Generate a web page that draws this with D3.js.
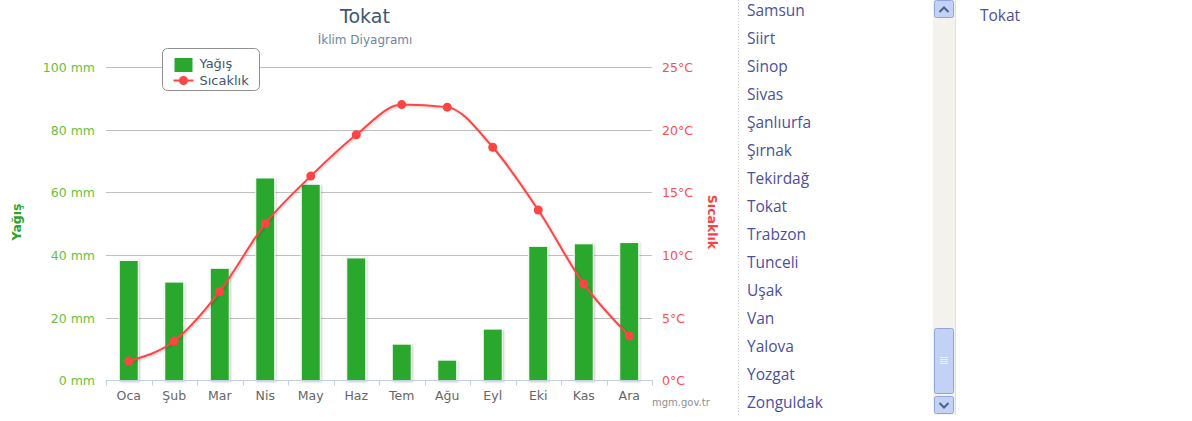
<!DOCTYPE html>
<html>
<head>
<meta charset="utf-8">
<title>Tokat</title>
<script src="https://cdnjs.cloudflare.com/ajax/libs/d3/7.8.5/d3.min.js"></script>
<style>
  body { margin: 0; background: #fff; }
  svg { display: block; }
</style>
</head>
<body>
<script>
var months = ["Oca", "Şub", "Mar", "Nis", "May", "Haz", "Tem", "Ağu", "Eyl", "Eki", "Kas", "Ara"];
var rain = [38.3, 31.4, 35.8, 64.6, 62.6, 39.1, 11.6, 6.5, 16.4, 42.8, 43.6, 44.0];
var temp = [1.55, 3.15, 7.1, 12.5, 16.3, 19.6, 22.0, 21.8, 18.6, 13.6, 7.7, 3.55];
var rainTicks = [0, 20, 40, 60, 80, 100];
var tempTicks = [0, 5, 10, 15, 20, 25];
var cities = ["Samsun", "Siirt", "Sinop", "Sivas", "Şanlıurfa", "Şırnak", "Tekirdağ", "Tokat",
              "Trabzon", "Tunceli", "Uşak", "Van", "Yalova", "Yozgat", "Zonguldak"];

var W = 1192, H = 421;
var font = "'DejaVu Sans', Verdana, sans-serif";
var svg = d3.select("body").append("svg").attr("width", W).attr("height", H);

var defs = svg.append("defs");
var f = defs.append("filter").attr("id", "shadow").attr("x", "-20%").attr("y", "-20%").attr("width", "150%").attr("height", "150%");
f.append("feDropShadow").attr("dx", 1).attr("dy", 1).attr("stdDeviation", 1.2)
  .attr("flood-color", "#000").attr("flood-opacity", 0.22);

var plotL = 106, plotR = 652, plotT = 67, plotB = 380.5;

var x = d3.scaleBand().domain(months).range([plotL, plotR]).paddingInner(0).paddingOuter(0);
var yR = d3.scaleLinear().domain([0, 100]).range([plotB, plotT]);
var yT = d3.scaleLinear().domain([0, 25]).range([plotB, plotT]);

// title
svg.append("text").attr("x", 365).attr("y", 23).attr("text-anchor", "middle")
  .attr("font-family", font).attr("font-size", 19).attr("fill", "#3e576f").text("Tokat");
svg.append("text").attr("x", 365).attr("y", 44).attr("text-anchor", "middle")
  .attr("font-family", font).attr("font-size", 12).attr("fill", "#6d869f").text("İklim Diyagramı");

// grid
svg.append("g").selectAll("line").data(rainTicks.slice(1)).join("line")
  .attr("x1", plotL).attr("x2", plotR)
  .attr("y1", function(d) { return Math.round(yR(d)) + 0.5; })
  .attr("y2", function(d) { return Math.round(yR(d)) + 0.5; })
  .attr("stroke", "#c0c0c0").attr("stroke-width", 1);

// left axis
var gl = svg.append("g").attr("transform", "translate(" + (plotL - 11) + ",0)")
  .call(d3.axisLeft(yR).tickValues(rainTicks).tickSize(0).tickFormat(function(d) { return d + " mm"; }));
gl.select(".domain").remove();
gl.selectAll("text").attr("font-family", font).attr("font-size", 12.5).attr("fill", "#6bbf3a").attr("x", 0).attr("dy", "0.35em");

svg.append("text").attr("transform", "translate(21,222) rotate(-90)").attr("text-anchor", "middle")
  .attr("font-family", font).attr("font-size", 12.5).attr("font-weight", "bold").attr("fill", "#2aa52a").text("Yağış");

// right axis
var gr = svg.append("g").attr("transform", "translate(" + (plotR + 10) + ",0)")
  .call(d3.axisRight(yT).tickValues(tempTicks).tickSize(0).tickFormat(function(d) { return d + "°C"; }));
gr.select(".domain").remove();
gr.selectAll("text").attr("font-family", font).attr("font-size", 12.5).attr("fill", "#ff4d4d").attr("x", 0).attr("dy", "0.35em");

svg.append("text").attr("transform", "translate(708,222) rotate(90)").attr("text-anchor", "middle")
  .attr("font-family", font).attr("font-size", 12.5).attr("font-weight", "bold").attr("fill", "#ff4040").text("Sıcaklık");

// bars
var bw = 19;
svg.append("g").selectAll("rect").data(rain).join("rect")
  .attr("x", function(d, i) { return x(months[i]) + x.bandwidth() / 2 - bw / 2; })
  .attr("y", function(d) { return yR(d); })
  .attr("width", bw)
  .attr("height", function(d) { return plotB - yR(d); })
  .attr("fill", "#2aa82e").attr("stroke", "#fff").attr("stroke-width", 1)
  .attr("filter", "url(#shadow)");

// x axis
var gx = svg.append("g").attr("transform", "translate(0," + (plotB - 0.5) + ")")
  .call(d3.axisBottom(x).tickSize(0).tickPadding(11));
gx.select(".domain").attr("stroke", "#c0d0e0");
gx.selectAll("text").attr("font-family", font).attr("font-size", 12.5).attr("fill", "#666");
svg.append("g").selectAll("line").data(months.concat(["end"])).join("line")
  .attr("x1", function(d, i) { return Math.round(plotL + i * x.bandwidth()) + 0.5; })
  .attr("x2", function(d, i) { return Math.round(plotL + i * x.bandwidth()) + 0.5; })
  .attr("y1", plotB - 0.5).attr("y2", plotB + 5)
  .attr("stroke", "#c0d0e0");

// temperature spline
var line = d3.line()
  .x(function(d, i) { return x(months[i]) + x.bandwidth() / 2; })
  .y(function(d) { return yT(d); })
  .curve(d3.curveMonotoneX);
svg.append("path").datum(temp).attr("d", line)
  .attr("fill", "none").attr("stroke", "#ff4444").attr("stroke-width", 2)
  .attr("filter", "url(#shadow)");
svg.append("g").selectAll("circle").data(temp).join("circle")
  .attr("cx", function(d, i) { return x(months[i]) + x.bandwidth() / 2; })
  .attr("cy", function(d) { return yT(d); })
  .attr("r", 4.5).attr("fill", "#ff4444");

// legend
var lg = svg.append("g").attr("transform", "translate(162.5,48.5)");
lg.append("rect").attr("width", 97).attr("height", 42).attr("rx", 5)
  .attr("fill", "#fff").attr("stroke", "#909090").attr("stroke-width", 1);
lg.append("rect").attr("x", 12).attr("y", 9.5).attr("width", 18).attr("height", 14).attr("fill", "#2aa82e");
lg.append("text").attr("x", 37).attr("y", 19).attr("font-family", font).attr("font-size", 13).attr("fill", "#3e576f").text("Yağış");
lg.append("line").attr("x1", 11).attr("x2", 31).attr("y1", 32).attr("y2", 32).attr("stroke", "#ff4444").attr("stroke-width", 2);
lg.append("circle").attr("cx", 21).attr("cy", 32).attr("r", 4.5).attr("fill", "#ff4444");
lg.append("text").attr("x", 37).attr("y", 36).attr("font-family", font).attr("font-size", 13).attr("fill", "#3e576f").text("Sıcaklık");

// credit
svg.append("text").attr("x", 652).attr("y", 406).attr("font-family", font).attr("font-size", 10)
  .attr("fill", "#909090").text("mgm.gov.tr");

// city list box
var listFont = "'Open Sans', 'Noto Sans', sans-serif";
svg.append("line").attr("x1", 738.5).attr("x2", 738.5).attr("y1", 0).attr("y2", 415)
  .attr("stroke", "#d0d0d0").attr("stroke-dasharray", "1,2");
svg.append("g").selectAll("text").data(cities).join("text")
  .attr("x", 747).attr("y", function(d, i) { return 16 + i * 28; })
  .attr("font-family", listFont).attr("font-size", 15.5).attr("fill", "#4b4f9e").text(function(d) { return d; });

// scrollbar
svg.append("rect").attr("x", 933).attr("y", 0).attr("width", 22).attr("height", 415).attr("fill", "#f4f2ec");
svg.append("line").attr("x1", 955.5).attr("x2", 955.5).attr("y1", 0).attr("y2", 415).attr("stroke", "#e0e0e0");
var sbFill = "#c2d2f6", sbStroke = "#8fa6d8";
svg.append("rect").attr("x", 934.5).attr("y", 0.5).attr("width", 19).attr("height", 17).attr("rx", 2)
  .attr("fill", sbFill).attr("stroke", sbStroke);
svg.append("path").attr("d", "M939.5,12 L944,7.5 L948.5,12").attr("fill", "none").attr("stroke", "#4d6185").attr("stroke-width", 2);
svg.append("rect").attr("x", 934.5).attr("y", 328.5).attr("width", 19).attr("height", 65).attr("rx", 2)
  .attr("fill", sbFill).attr("stroke", sbStroke);
svg.append("g").selectAll("line").data([0, 1, 2, 3]).join("line")
  .attr("x1", 940).attr("x2", 948)
  .attr("y1", function(d) { return 357.5 + d * 2; }).attr("y2", function(d) { return 357.5 + d * 2; })
  .attr("stroke", "#eef3ff");
svg.append("rect").attr("x", 934.5).attr("y", 396.5).attr("width", 19).attr("height", 17).attr("rx", 2)
  .attr("fill", sbFill).attr("stroke", sbStroke);
svg.append("path").attr("d", "M939.5,403 L944,407.5 L948.5,403").attr("fill", "none").attr("stroke", "#4d6185").attr("stroke-width", 2);

// selected city
svg.append("text").attr("x", 980).attr("y", 21).attr("font-family", listFont).attr("font-size", 15.5)
  .attr("fill", "#4b4f9e").text("Tokat");
</script>
</body>
</html>
